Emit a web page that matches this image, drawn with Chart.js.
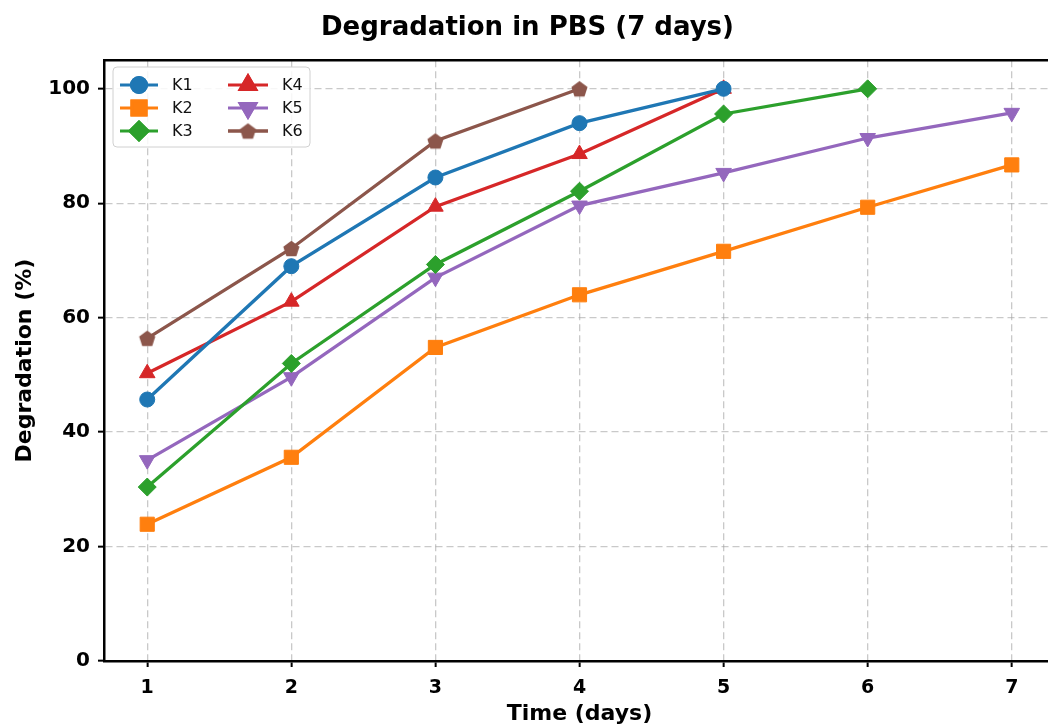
<!DOCTYPE html>
<html>
<head>
<meta charset="utf-8">
<script src="https://cdn.jsdelivr.net/npm/chart.js@4.4.0/dist/chart.umd.min.js"></script>
<style>
  html, body { margin: 0; padding: 0; background: #fff; overflow: hidden; }
  #wrap { width: 1068px; height: 727px; }
</style>
</head>
<body>
<div id="wrap"><canvas id="chart"></canvas></div>
<script>
// Degradation in PBS over 7 days, six samples K1..K6
const days   = [1, 2, 3, 4, 5, 6, 7];
const yTicks = [0, 20, 40, 60, 80, 100];

const seriesNames = ["K1", "K2", "K3", "K4", "K5", "K6"];
const k1 = [45.7, 69.0, 84.5, 94.0, 100];
const k2 = [23.9, 35.6, 54.8, 64.0, 71.6, 79.3, 86.7];
const k3 = [30.4, 52.0, 69.3, 82.1, 95.6, 100];
const k4 = [50.3, 62.8, 79.4, 88.6, 100];
const k5 = [35.1, 49.6, 67.0, 79.6, 85.3, 91.4, 95.8];
const k6 = [56.4, 72.1, 90.9, 100];

const colors = ["#1f77b4", "#ff7f0e", "#2ca02c", "#d62728", "#9467bd", "#8c564b"];

// pentagon marker (Chart.js has none)
function pentagonCanvas(color, r) {
  const c = document.createElement("canvas");
  const s = Math.ceil(r * 2 + 2);
  c.width = s; c.height = s;
  const g = c.getContext("2d");
  g.fillStyle = color;
  g.beginPath();
  for (let i = 0; i < 5; i++) {
    const a = -Math.PI / 2 + i * 2 * Math.PI / 5;
    const px = s / 2 + r * Math.cos(a), py = s / 2 + r * Math.sin(a) + 0.8;
    i === 0 ? g.moveTo(px, py) : g.lineTo(px, py);
  }
  g.closePath();
  g.fill();
  return c;
}
const pentagon = pentagonCanvas(colors[5], 8.5);

const markers = [
  { style: "circle",   radius: 7.5, rotation: 0 },
  { style: "rect",     radius: 10,  rotation: 0 },
  { style: "rectRot",  radius: 9,   rotation: 0 },
  { style: "triangle", radius: 9,   rotation: 0 },
  { style: "triangle", radius: 9,   rotation: 180 },
  { style: pentagon,   radius: 9,   rotation: 0 }
];

const allValues = [k1, k2, k3, k4, k5, k6];

const datasets = allValues.map((vals, i) => ({
  label: seriesNames[i],
  data: vals.map((v, j) => ({ x: days[j], y: v })),
  borderColor: colors[i],
  backgroundColor: colors[i],
  borderWidth: 3.3,
  pointStyle: markers[i].style,
  pointRadius: markers[i].radius,
  pointRotation: markers[i].rotation,
  pointBorderWidth: 1,
  pointBorderColor: colors[i],
  pointBackgroundColor: colors[i],
  tension: 0
}));

const FONT = "'DejaVu Sans', sans-serif";

// top spine
const frameTop = {
  id: "frameTop",
  afterDraw(chart) {
    const { ctx, chartArea } = chart;
    ctx.save();
    ctx.strokeStyle = "#000";
    ctx.lineWidth = 2.5;
    ctx.beginPath();
    ctx.moveTo(chartArea.left - 1, chartArea.top);
    ctx.lineTo(chartArea.right + 1, chartArea.top);
    ctx.stroke();
    ctx.restore();
  }
};

// two-column legend, upper left, like matplotlib ncol=2
const twoColLegend = {
  id: "twoColLegend",
  afterDraw(chart) {
    const { ctx } = chart;
    const box = { x: 113, y: 67, w: 197, h: 80 };
    ctx.save();
    ctx.fillStyle = "rgba(255,255,255,0.85)";
    ctx.strokeStyle = "#d0d0d0";
    ctx.lineWidth = 1;
    ctx.beginPath();
    ctx.roundRect(box.x, box.y, box.w, box.h, 4);
    ctx.fill();
    ctx.stroke();

    const rows = [85, 108, 131];
    const cols = [{ x0: 120, x1: 158, tx: 172 }, { x0: 228, x1: 268, tx: 282 }];
    ctx.font = "16px " + FONT;
    ctx.textBaseline = "middle";
    ctx.textAlign = "left";
    chart.data.datasets.forEach((ds, i) => {
      const col = cols[Math.floor(i / 3)];
      const y = rows[i % 3];
      ctx.strokeStyle = ds.borderColor;
      ctx.lineWidth = 3;
      ctx.beginPath();
      ctx.moveTo(col.x0, y);
      ctx.lineTo(col.x1, y);
      ctx.stroke();
      Chart.helpers.drawPoint(ctx, {
        pointStyle: ds.pointStyle,
        radius: ds.pointRadius,
        rotation: ds.pointRotation,
        borderWidth: 1
      }, (col.x0 + col.x1) / 2, y);
      ctx.fillStyle = ds.borderColor;
      ctx.strokeStyle = ds.borderColor;
      ctx.fill();
      ctx.stroke();
      ctx.fillStyle = "#111";
      ctx.fillText(ds.label, col.tx, y + 1);
    });
    ctx.restore();
  }
};

new Chart(document.getElementById("chart"), {
  type: "line",
  data: { datasets },
  plugins: [frameTop, twoColLegend],
  options: {
    responsive: true,
    maintainAspectRatio: false,
    animation: false,
    layout: { autoPadding: false, padding: { left: 0, right: 13, top: 0, bottom: 0 } },
    plugins: {
      legend: { display: false },
      tooltip: { enabled: false },
      title: {
        display: true,
        text: "Degradation in PBS (7 days)",
        color: "#000",
        font: { family: FONT, size: 26, weight: "bold" },
        padding: { top: 13, bottom: 16 }
      }
    },
    scales: {
      x: {
        type: "linear",
        min: 0.7,
        max: 7.3,
        afterBuildTicks: s => { s.ticks = days.map(v => ({ value: v })); },
        afterFit: s => { s.height = 66; },
        ticks: {
          color: "#000",
          font: { family: FONT, size: 19, weight: "bold" },
          padding: 10
        },
        grid: {
          color: "rgba(165,165,165,0.6)",
          lineWidth: 1.3,
          tickColor: "#000",
          tickWidth: 2,
          tickLength: 6
        },
        border: { color: "#000", width: 2.5, dash: [7, 4] },
        title: {
          display: true,
          text: "Time (days)",
          color: "#000",
          font: { family: FONT, size: 22, weight: "bold" },
          padding: { top: 0, bottom: 0 }
        }
      },
      y: {
        min: 0,
        max: 105,
        afterBuildTicks: s => { s.ticks = yTicks.map(v => ({ value: v })); },
        afterFit: s => { s.width = 104; },
        ticks: {
          color: "#000",
          font: { family: FONT, size: 20, weight: "bold" },
          padding: 8
        },
        grid: {
          color: "rgba(165,165,165,0.6)",
          lineWidth: 1.3,
          tickColor: "#000",
          tickWidth: 2,
          tickLength: 6
        },
        border: { color: "#000", width: 2.5, dash: [7, 4] },
        title: {
          display: true,
          text: "Degradation (%)",
          color: "#000",
          font: { family: FONT, size: 22, weight: "bold" },
          padding: { top: 12, bottom: 0 }
        }
      }
    }
  }
});
</script>
</body>
</html>
